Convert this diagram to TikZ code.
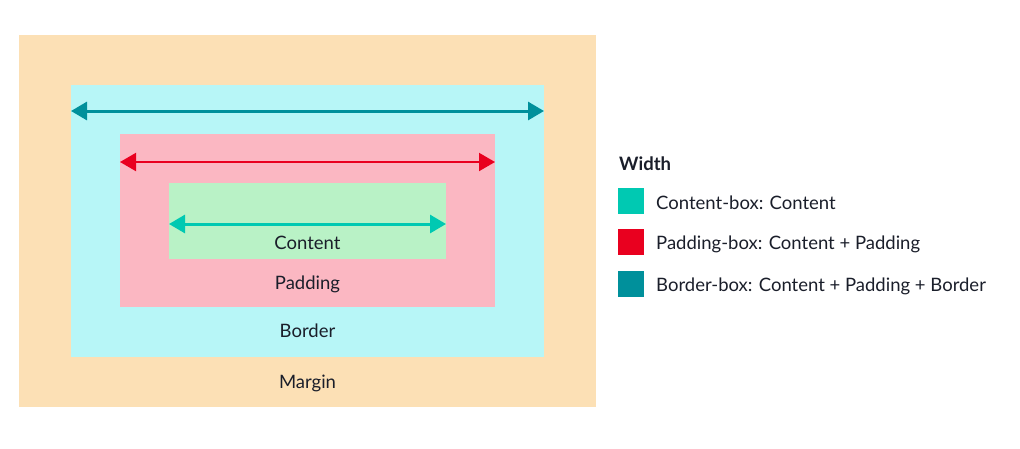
\documentclass[tikz,border=0pt]{standalone}
\usepackage{fontspec}
\setmainfont{Lato}
\usetikzlibrary{positioning,calc,arrows.meta}
\definecolor{marginc}{HTML}{FCE0B5}
\definecolor{borderc}{HTML}{B7F6F7}
\definecolor{paddingc}{HTML}{FBB7C2}
\definecolor{contentc}{HTML}{B9F2C6}
\definecolor{bdarrow}{HTML}{00909B}
\definecolor{pdarrow}{HTML}{E9001F}
\definecolor{ctarrow}{HTML}{00C9B2}
\definecolor{inkc}{HTML}{1A1E2A}
\begin{document}
\begin{tikzpicture}[x=1pt,y=-1pt,font=\fontsize{18.5}{22}\selectfont,text=inkc]
            \tikzset{
                box/.style={draw=none,inner sep=0pt,outer sep=0pt},
                wd/.style={line width=#1,{Triangle[length=16pt,width=18pt]}-{Triangle[length=16pt,width=18pt]}},
                swatch/.style={box,minimum width=26pt,minimum height=26pt},
                legtext/.style={anchor=west,inner sep=0pt,yshift=-2pt},}
            \useasboundingbox (0,0) rectangle (1020,448);
            % the nested boxes
            \node [box,fill=marginc,minimum width=577pt,minimum height=372pt] (margin) at (307.5,221) {};
            \node [box,fill=borderc,minimum width=473pt,minimum height=272pt] (border) at (307.5,221) {};
            \node [box,fill=paddingc,minimum width=375pt,minimum height=173pt] (padding) at (307.5,220.5) {};
            \node [box,fill=contentc,minimum width=277pt,minimum height=76pt] (content) at (307.5,221) {};
            \node (marginlbl) at (307.5,383) {Margin};
            \node (borderlbl) at (307.5,331) {Border};
            \node (paddinglbl) at (307.5,284) {Padding};
            \node (contentlbl) at (307.5,243) {Content};
            % width arrows
            \coordinate (bl) at ($(border.north west)+(0,26)$);
            \coordinate (br) at ($(border.north east)+(0,26)$);
            \coordinate (pl) at ($(padding.north west)+(0,28)$);
            \coordinate (pr) at ($(padding.north east)+(0,28)$);
            \coordinate (cl) at ($(content.north west)+(0,41)$);
            \coordinate (cr) at ($(content.north east)+(0,41)$);
            \draw [wd=3pt,bdarrow] (bl) -- (br);
            \draw [wd=2pt,pdarrow] (pl) -- (pr);
            \draw [wd=3pt,ctarrow] (cl) -- (cr);
            % legend
            \node [legtext,yshift=1pt,font=\fontsize{18.5}{22}\selectfont\bfseries] (width) at (619,163) {Width};
            \node [swatch,fill=ctarrow] (sw1) at (631,201) {};
            \node [swatch,fill=pdarrow] (sw2) at (631,242) {};
            \node [swatch,fill=bdarrow] (sw3) at (631,284) {};
            \node [legtext,right=12pt of sw1] (leg1) {Content-box: Content};
            \node [legtext,right=12pt of sw2] (leg2) {Padding-box: Content + Padding};
            \node [legtext,right=12pt of sw3] (leg3) {Border-box: Content + Padding + Border};
        \end{tikzpicture}
\end{document}
